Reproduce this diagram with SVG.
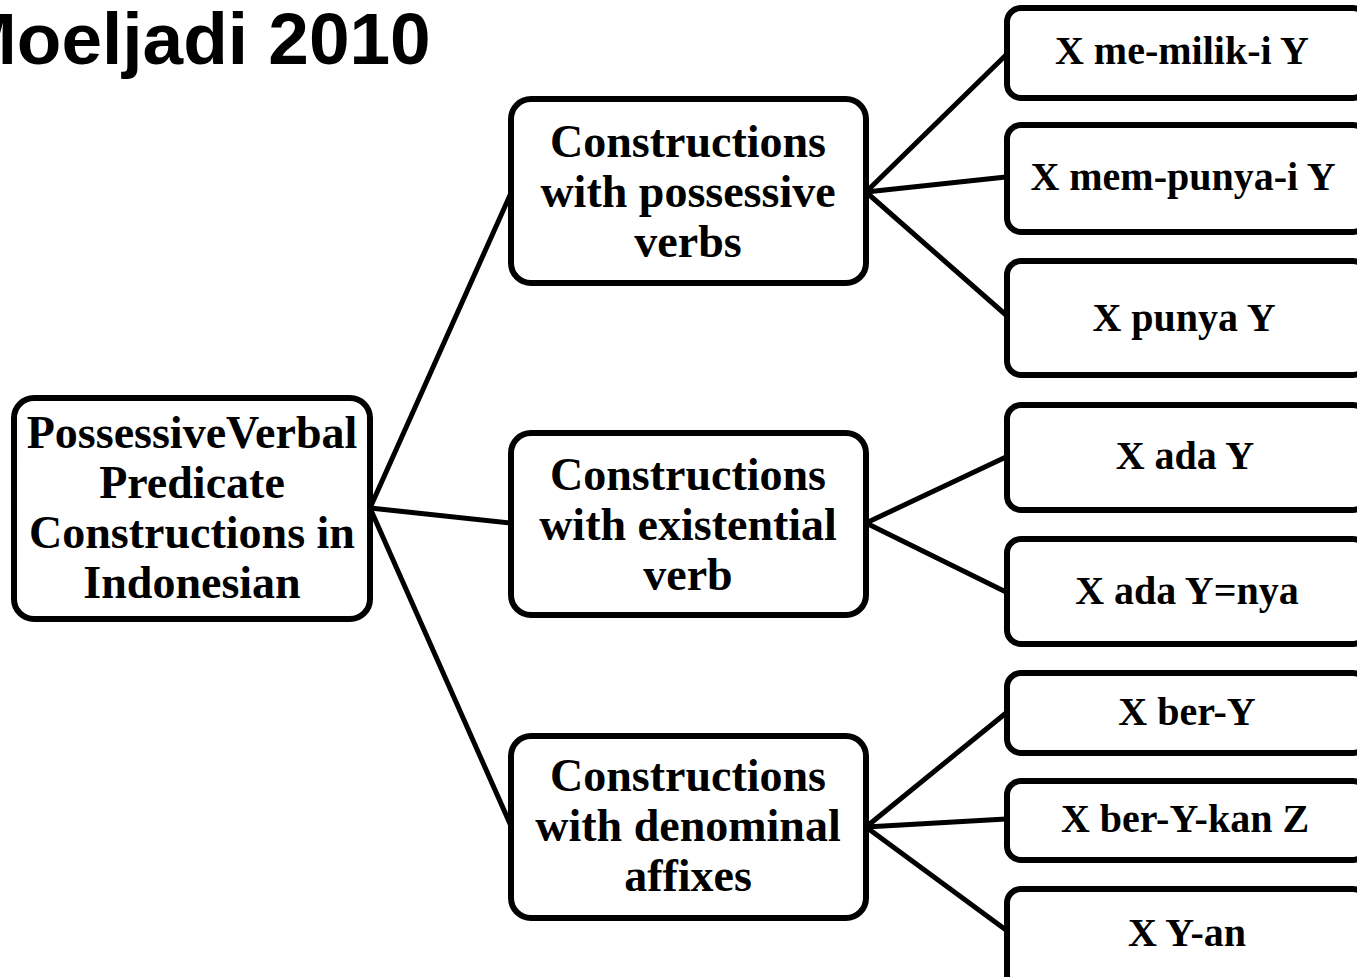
<svg xmlns="http://www.w3.org/2000/svg" width="1357" height="977" viewBox="0 0 1357 977">
<style>
.box{fill:#fff;stroke:#000;stroke-width:6}
.t{font-family:"Liberation Serif","Times New Roman",serif;font-weight:bold;fill:#000;text-anchor:middle}
.m{font-size:46px}
.r{font-size:40px}
.title{font-family:"Liberation Sans",Arial,sans-serif;font-weight:bold;font-size:73px;fill:#000}
.c{stroke:#000;stroke-width:5;fill:none;stroke-linecap:round}
</style>
<rect width="1357" height="977" fill="#fff"/>
<text class="title" x="-44" y="64">Moeljadi 2010</text>
<g id="connectors">
<line class="c" x1="370" y1="508" x2="511" y2="193"/>
<line class="c" x1="370" y1="508" x2="511" y2="523"/>
<line class="c" x1="370" y1="508" x2="511" y2="826"/>
<line class="c" x1="866" y1="192" x2="1006" y2="55"/>
<line class="c" x1="866" y1="192" x2="1006" y2="177"/>
<line class="c" x1="866" y1="192" x2="1006" y2="315"/>
<line class="c" x1="866" y1="523" x2="1006" y2="457"/>
<line class="c" x1="866" y1="523" x2="1006" y2="592"/>
<line class="c" x1="866" y1="827" x2="1006" y2="713"/>
<line class="c" x1="866" y1="827" x2="1006" y2="819"/>
<line class="c" x1="866" y1="827" x2="1006" y2="930"/>
</g>
<g id="root">
<rect class="box" x="14" y="398" width="356" height="221" rx="20"/>
<text class="t m" x="192" y="448">PossessiveVerbal</text>
<text class="t m" x="192" y="498">Predicate</text>
<text class="t m" x="192" y="548">Constructions in</text>
<text class="t m" x="192" y="598">Indonesian</text>
</g>
<g id="mid1">
<rect class="box" x="511" y="99" width="355" height="184" rx="20"/>
<text class="t m" x="688" y="157">Constructions</text>
<text class="t m" x="688" y="207">with possessive</text>
<text class="t m" x="688" y="257">verbs</text>
</g>
<g id="mid2">
<rect class="box" x="511" y="433" width="355" height="182" rx="20"/>
<text class="t m" x="688" y="490">Constructions</text>
<text class="t m" x="688" y="540">with existential</text>
<text class="t m" x="688" y="590">verb</text>
</g>
<g id="mid3">
<rect class="box" x="511" y="736" width="355" height="182" rx="20"/>
<text class="t m" x="688" y="791">Constructions</text>
<text class="t m" x="688" y="841">with denominal</text>
<text class="t m" x="688" y="891">affixes</text>
</g>
<g id="r1">
<rect class="box" x="1007" y="8" width="360" height="90" rx="14"/>
<text class="t r" x="1182" y="64">X me-milik-i Y</text>
</g>
<g id="r2">
<rect class="box" x="1007" y="125" width="360" height="107" rx="14"/>
<text class="t r" x="1183" y="190">X mem-punya-i Y</text>
</g>
<g id="r3">
<rect class="box" x="1007" y="261" width="360" height="114" rx="14"/>
<text class="t r" x="1184" y="331">X punya Y</text>
</g>
<g id="r4">
<rect class="box" x="1007" y="405" width="360" height="105" rx="14"/>
<text class="t r" x="1185" y="469">X ada Y</text>
</g>
<g id="r5">
<rect class="box" x="1007" y="539" width="360" height="105" rx="14"/>
<text class="t r" x="1187" y="604">X ada Y=nya</text>
</g>
<g id="r6">
<rect class="box" x="1007" y="673" width="360" height="80" rx="14"/>
<text class="t r" x="1187" y="725">X ber-Y</text>
</g>
<g id="r7">
<rect class="box" x="1007" y="781" width="360" height="79" rx="14"/>
<text class="t r" x="1185" y="832">X ber-Y-kan Z</text>
</g>
<g id="r8">
<rect class="box" x="1007" y="889" width="360" height="100" rx="14"/>
<text class="t r" x="1187" y="946">X Y-an</text>
</g>
</svg>
